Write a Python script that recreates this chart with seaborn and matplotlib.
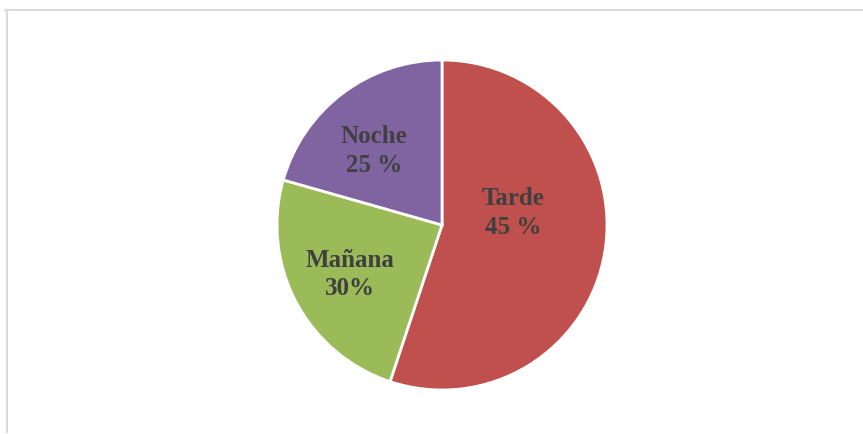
import matplotlib
matplotlib.use("Agg")
import matplotlib.pyplot as plt
from matplotlib.lines import Line2D
import seaborn as sns

categories = ["Tarde", "Mañana", "Noche"]
slice_values = [55.1, 24.3, 20.6]
label_texts = ["Tarde\n45 %", "Mañana\n30%", "Noche\n25 %"]
colors = ["#C0504D", "#9BBB59", "#8064A2"]

sns.set_theme(style="white")
plt.rcParams["font.family"] = ["Liberation Serif", "DejaVu Serif"]

W, H = 863, 434
fig = plt.figure(figsize=(W / 100, H / 100), dpi=100)
fig.patch.set_facecolor("white")

cx, cy, r = 442, 225, 165
ax = fig.add_axes([(cx - r) / W, (H - cy - r) / H, 2 * r / W, 2 * r / H])
wedges, _ = ax.pie(slice_values, colors=colors, startangle=90, counterclock=False,
                   radius=1.0, wedgeprops=dict(edgecolor="white", linewidth=2))
ax.set_xlim(-1.0, 1.0)
ax.set_ylim(-1.0, 1.0)
ax.set_aspect("equal")
ax.axis("off")

label_pos = [(0.43, 0.075), (-0.557, -0.30), (-0.41, 0.45)]
for (x, y), t in zip(label_pos, label_texts):
    ax.text(x, y, t, ha="center", va="center", fontsize=18, fontweight="bold",
            color="#404040", linespacing=1.33)

# frame lines
fig.add_artist(Line2D([5 / W, 1.0], [1 - 10 / H, 1 - 10 / H], color="#d9d9d9", lw=1.5,
                      transform=fig.transFigure))
fig.add_artist(Line2D([7 / W, 7 / W], [1 - 10 / H, 1 - 432 / H], color="#d9d9d9", lw=1.5,
                      transform=fig.transFigure))

fig.savefig("out.png", dpi=100, facecolor="white")
